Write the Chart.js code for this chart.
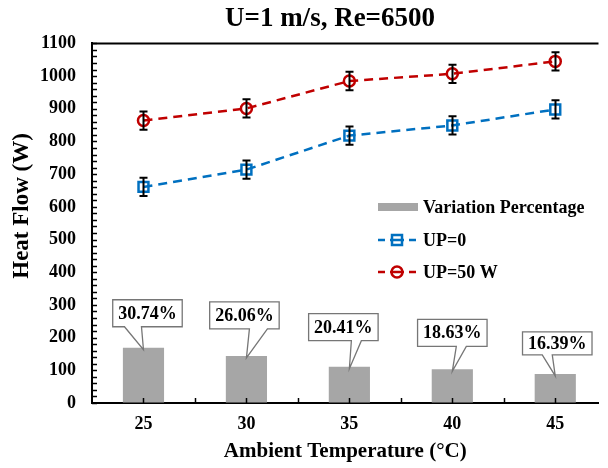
<!DOCTYPE html>
<html><head><meta charset="utf-8">
<script src="https://cdn.jsdelivr.net/npm/chart.js@4.4.1/dist/chart.umd.min.js"></script>
<style>html,body{margin:0;padding:0;background:#fff;overflow:hidden}canvas{display:block}</style>
</head><body>
<canvas id="c" width="608" height="468"></canvas>
<script>
// ---- data ----
const temperatures = [25, 30, 35, 40, 45];
const variationBars = [169, 144, 111, 103, 89];
const variationLabels = ['30.74%', '26.06%', '20.41%', '18.63%', '16.39%'];
const heatUP0 = [661, 714, 818, 849, 898];
const heatUP50 = [864, 901, 985, 1007, 1045];
const errUP0 = [28, 28, 28, 28, 28];
const errUP50 = [28, 28, 28, 28, 28];
const yTickValues = [0, 100, 200, 300, 400, 500, 600, 700, 800, 900, 1000, 1100];

const SERIF = '"Liberation Serif", "Times New Roman", serif';
const BLUE = '#0070C0', RED = '#C00000', GRAY = '#A6A6A6';
const pts = ys => temperatures.map((t, i) => ({ x: t, y: ys[i] }));

// callout geometry relative to bar top (layout only)
const calloutLayout = [
  { dx: 4, rise: 21, h: 27, b0: -19, b1: -2 },
  { dx: -2, rise: 27, h: 27, b0: 3, b1: 21 },
  { dx: -6, rise: 26, h: 27, b0: 2, b1: 12 },
  { dx: 0, rise: 23, h: 27, b0: 4, b1: 14 },
  { dx: 2, rise: 19, h: 23, b0: -13, b1: -3 }
];

const shiftTitle = {
  id: 'shiftTitle',
  afterLayout(chart) { if (chart.titleBlock) { chart.titleBlock.left = 52; } }
};

const axisDecor = {
  id: 'axisDecor',
  afterDatasetsDraw(chart) {
    const { ctx, chartArea: a, scales: { x, y } } = chart;
    ctx.save();
    ctx.strokeStyle = '#000';
    ctx.lineWidth = 1.5;
    // minor ticks on y axis (inside)
    for (let v = 0; v <= 1100; v += 20) {
      const py = Math.round(y.getPixelForValue(v)) + 0.5;
      ctx.beginPath(); ctx.moveTo(a.left, py); ctx.lineTo(a.left + 5, py); ctx.stroke();
    }
    // x ticks at categories and boundaries (inside)
    const xs = [];
    temperatures.forEach((t, i) => { xs.push(t); if (i < temperatures.length - 1) xs.push((t + temperatures[i + 1]) / 2); });
    xs.forEach(v => {
      const px = Math.round(x.getPixelForValue(v)) + 0.5;
      ctx.beginPath(); ctx.moveTo(px, a.bottom); ctx.lineTo(px, a.bottom - 5); ctx.stroke();
    });
    // top border
    ctx.lineWidth = 2;
    ctx.beginPath(); ctx.moveTo(a.left - 1, a.top); ctx.lineTo(a.right, a.top); ctx.stroke();

    // error bars
    const errs = { 1: errUP0, 2: errUP50 };
    [1, 2].forEach(di => {
      const meta = chart.getDatasetMeta(di);
      const vals = chart.data.datasets[di].data;
      meta.data.forEach((el, i) => {
        const e = errs[di][i];
        const y1 = y.getPixelForValue(vals[i].y + e), y2 = y.getPixelForValue(vals[i].y - e);
        const px = Math.round(el.x) + 0.5;
        ctx.strokeStyle = '#000'; ctx.lineWidth = 2;
        ctx.beginPath();
        ctx.moveTo(px, y1); ctx.lineTo(px, y2);
        ctx.moveTo(px - 4, y1); ctx.lineTo(px + 4, y1);
        ctx.moveTo(px - 4, y2); ctx.lineTo(px + 4, y2);
        ctx.stroke();
      });
    });

    // callouts
    const bars = chart.getDatasetMeta(0).data;
    ctx.font = 'bold 18px ' + SERIF;
    bars.forEach((bar, i) => {
      const L = calloutLayout[i];
      const txt = variationLabels[i];
      const w = ctx.measureText(txt).width + 11;
      const tipX = bar.x, tipY = bar.y + 2;
      const cx = tipX + L.dx;
      const bottom = bar.y - L.rise, top = bottom - L.h;
      const left = cx - w / 2, right = cx + w / 2;
      ctx.beginPath();
      ctx.moveTo(left, top); ctx.lineTo(right, top); ctx.lineTo(right, bottom);
      ctx.lineTo(tipX + L.b1, bottom); ctx.lineTo(tipX, tipY); ctx.lineTo(tipX + L.b0, bottom);
      ctx.lineTo(left, bottom); ctx.closePath();
      ctx.fillStyle = '#fff'; ctx.fill();
      ctx.strokeStyle = '#767676'; ctx.lineWidth = 1.3; ctx.stroke();
      ctx.fillStyle = '#000'; ctx.textAlign = 'center'; ctx.textBaseline = 'middle';
      ctx.fillText(txt, cx, (top + bottom) / 2 + 1);
    });
    ctx.restore();
  },
  afterDraw(chart) {
    // legend
    const { ctx } = chart;
    const ds = chart.data.datasets;
    const rows = [207, 240, 272];
    ctx.save();
    ctx.font = 'bold 18px ' + SERIF;
    ctx.textAlign = 'left'; ctx.textBaseline = 'middle'; ctx.fillStyle = '#000';
    // bar entry
    ctx.fillStyle = GRAY; ctx.fillRect(378, rows[0] - 4, 40, 8);
    ctx.fillStyle = '#000'; ctx.fillText(ds[0].label, 423, rows[0] + 1);
    [1, 2].forEach((di, k) => {
      const yy = rows[k + 1];
      const d = ds[di];
      ctx.strokeStyle = d.borderColor; ctx.lineWidth = 2.5;
      ctx.beginPath();
      ctx.moveTo(378, yy); ctx.lineTo(385, yy);
      ctx.moveTo(390, yy); ctx.lineTo(404, yy);
      ctx.moveTo(409, yy); ctx.lineTo(416, yy);
      ctx.stroke();
      ctx.lineWidth = 2.5;
      ctx.beginPath();
      if (d.pointStyle === 'rect') ctx.rect(392, yy - 5, 10, 10);
      else ctx.arc(397, yy, 5.5, 0, Math.PI * 2);
      ctx.stroke();
      ctx.fillStyle = '#000'; ctx.fillText(d.label, 423, yy + 1);
    });
    ctx.restore();
  }
};

new Chart(document.getElementById('c'), {
  type: 'bar',
  data: {
    datasets: [
      { type: 'bar', label: 'Variation Percentage', data: pts(variationBars), backgroundColor: GRAY,
        borderWidth: 0, categoryPercentage: 0.8, barPercentage: 0.5, order: 3 },
      { type: 'line', label: 'UP=0', data: pts(heatUP0), borderColor: BLUE, borderWidth: 2.5,
        borderDash: [9, 6], pointStyle: 'rect', pointRadius: 7, pointBorderWidth: 2.5,
        pointBorderColor: BLUE, pointBackgroundColor: 'rgba(255,255,255,0)', fill: false, tension: 0, order: 1 },
      { type: 'line', label: 'UP=50 W', data: pts(heatUP50), borderColor: RED, borderWidth: 2.5,
        borderDash: [9, 6], pointStyle: 'circle', pointRadius: 5.5, pointBorderWidth: 2.5,
        pointBorderColor: RED, pointBackgroundColor: 'rgba(255,255,255,0)', fill: false, tension: 0, order: 2 }
    ]
  },
  options: {
    responsive: false, animation: false, devicePixelRatio: 1,
    layout: { padding: 0 },
    plugins: {
      legend: { display: false }, tooltip: { enabled: false },
      title: { display: true, text: 'U=1 m/s, Re=6500', color: '#000',
        font: { family: SERIF, size: 27, weight: 'bold' }, padding: { top: 3, bottom: 8 } }
    },
    scales: {
      x: {
        type: 'linear', min: 22.5, max: 47.1, offset: false,
        afterBuildTicks: s => { s.ticks = temperatures.map(v => ({ value: v })); },
        afterFit: s => { s.height = 65; },
        grid: { display: true, drawOnChartArea: false, drawTicks: false },
        border: { display: true, color: '#000', width: 2 },
        ticks: { color: '#000', font: { family: SERIF, size: 18, weight: 'bold' }, padding: 11, maxRotation: 0, autoSkip: false,
          callback: v => String(v) },
        title: { display: true, text: 'Ambient Temperature (°C)', color: '#000',
          font: { family: SERIF, size: 21, weight: 'bold' }, padding: { top: 0, bottom: 4 } }
      },
      y: {
        min: 0, max: 1100,
        afterBuildTicks: s => { s.ticks = yTickValues.map(v => ({ value: v })); },
        afterFit: s => { s.width = 92; },
        grid: { display: true, drawOnChartArea: false, drawTicks: false },
        border: { display: true, color: '#000', width: 2 },
        ticks: { color: '#000', font: { family: SERIF, size: 18, weight: 'bold' }, padding: 16,
          callback: v => String(v) },
        title: { display: true, text: '      Heat Flow (W)', color: '#000',
          font: { family: SERIF, size: 23, weight: 'bold' }, padding: { top: 8, bottom: 0 } }
      }
    }
  },
  plugins: [shiftTitle, axisDecor]
});
</script>
</body></html>
